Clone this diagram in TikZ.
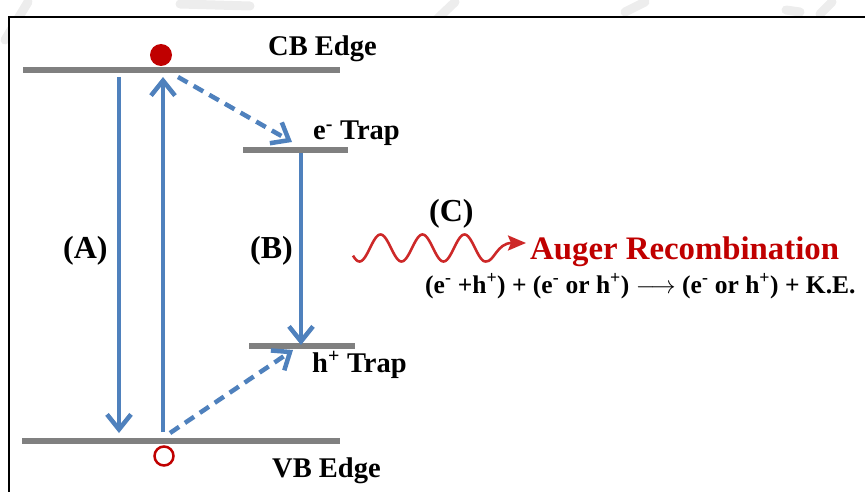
\documentclass[tikz,border=0pt]{standalone}
\usepackage{fontspec}
\setmainfont{Liberation Serif}
\usetikzlibrary{arrows.meta,calc}
\definecolor{lvl}{RGB}{128,128,128}
\definecolor{ablue}{RGB}{79,129,189}
\definecolor{dred}{RGB}{192,0,0}
\definecolor{wred}{RGB}{205,40,40}
\begin{document}
\begin{tikzpicture}[x=1pt,y=-1pt,
  level/.style={draw=lvl, line width=6.5pt},
  trans/.style={draw=ablue, line width=4.5pt, -{Straight Barb[length=15pt,width=24pt]}},
  nonrad/.style={trans, dash pattern=on 11pt off 7pt},
  lbl/.style={font=\fontsize{28.5}{30}\selectfont\bfseries, inner sep=0, anchor=base west},
  biglbl/.style={font=\fontsize{32}{34}\selectfont\bfseries, inner sep=0, anchor=base west},
  eqlbl/.style={font=\fontsize{25.5}{27}\selectfont\bfseries, inner sep=0, anchor=base west},
  wm/.style={draw=black!7, line width=9pt, line cap=round}]
\useasboundingbox (0,0) rectangle (865,492);
% faint watermark above the frame
\draw[wm] (5,40) -- (28,2);
\draw[wm] (180,4) -- (250,6);
\draw[wm] (415,40) -- (455,2);
\draw[wm] (625,12) -- (645,2);
\draw[wm] (786,10) -- (800,12);
\draw[wm] (820,14) -- (832,2);
% frame
\fill[white] (9,17) rectangle (865,492);
\draw[black, line width=2pt] (9,492) -- (9,17) -- (865,17);
% levels
\coordinate (cbL) at (23,70);  \coordinate (cbR) at (340,70);
\coordinate (etL) at (243,150); \coordinate (etR) at (348,150);
\coordinate (htL) at (249,346); \coordinate (htR) at (355,346);
\coordinate (vbL) at (22,441);  \coordinate (vbR) at (340,441);
\draw[level] (cbL) -- (cbR);
\draw[level] (etL) -- (etR);
\draw[level] (htL) -- (htR);
\draw[level] (vbL) -- (vbR);
% carriers
\node[circle, fill=dred, minimum size=22pt, inner sep=0] (el) at (161,55) {};
\node[circle, draw=dred, line width=2.5pt, minimum size=19pt, inner sep=0] (ho) at (164,456) {};
% transitions
\coordinate (a1) at (119,77);  \coordinate (a2) at (119,433);
\coordinate (u1) at (163,432); \coordinate (u2) at (163,77);
\coordinate (d1) at (178,77);  \coordinate (d2) at (292,142);
\coordinate (b1) at (301,153); \coordinate (b2) at (301,345);
\coordinate (h1) at (170,433); \coordinate (h2) at (293,350);
\draw[trans] (a1) -- (a2);
\draw[trans] (u1) -- (u2);
\draw[nonrad] (d1) -- (d2);
\draw[trans] (b1) -- (b2);
\draw[nonrad] (h1) -- (h2);
% labels
\node[lbl] (cb) at (268,56) {CB Edge};
\node[lbl] (et) at (313,140) {e\textsuperscript{-} Trap};
\node[lbl] (ht) at (312,372) {h\textsuperscript{+} Trap};
\node[lbl] (vb) at (272,477) {VB Edge};
\node[biglbl] (A) at (63,258) {(A)};
\node[biglbl] (B) at (250,258) {(B)};
\node[biglbl] (C) at (429,221) {(C)};
% Auger
\coordinate (wt) at (526,243);
\draw[wred, line width=2.6pt, -{Stealth[length=18pt,width=15pt,inset=3pt]}]
  plot[domain=353:486, samples=120, smooth] (\x,{248+13.5*cos(8.5714*(\x-359.5))})
  .. controls (494,262) and (497,243) .. (wt);
\node[font=\fontsize{32.8}{34}\selectfont\bfseries, inner sep=0, anchor=base west, text=dred] (aug) at (530,259) {Auger Recombination};
\node[eqlbl] (eq) at (425,293) {(e\textsuperscript{-} +h\textsuperscript{+}) + (e\textsuperscript{-} or h\textsuperscript{+}) $\longrightarrow$ (e\textsuperscript{-} or h\textsuperscript{+}) + K.E.};
\end{tikzpicture}
\end{document}
